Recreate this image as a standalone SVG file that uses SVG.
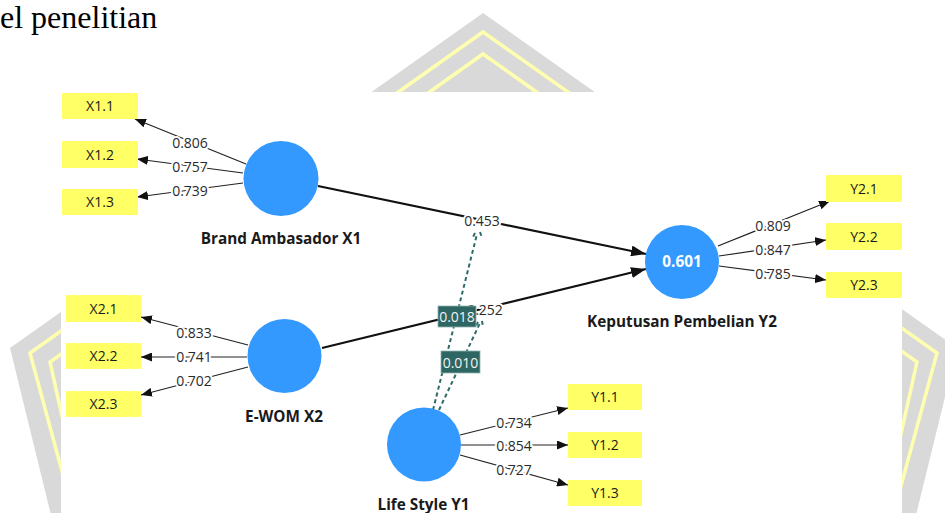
<svg xmlns="http://www.w3.org/2000/svg" width="945" height="513" viewBox="0 0 945 513">
<style>
.ind rect{fill:#ffff66}
.ind text{font-family:"Open Sans","Noto Sans",sans-serif;font-size:14px;fill:#1a1a1a;text-anchor:middle}
.lv circle{fill:#3399ff}
.lv text{font-family:"Open Sans","Noto Sans",sans-serif;font-size:15.3px;font-weight:bold;fill:#1a1a1a;text-anchor:middle}
.thin{stroke:#222;stroke-width:1.2;fill:none;marker-end:url(#ah)}
.thick{stroke:#111;stroke-width:2.2;fill:none;marker-end:url(#ahb)}
.w{font-family:"Open Sans","Noto Sans",sans-serif;font-size:14px;fill:#2a2a2a;text-anchor:middle;stroke:#fff;stroke-width:4;paint-order:stroke;stroke-linejoin:round}
.dash{stroke:#2e6b68;stroke-width:2;stroke-dasharray:4 3;fill:none}
.mod rect{fill:#2e6663;stroke:#8fb3b0;stroke-width:0.8}
.mod text{font-family:"Open Sans","Noto Sans",sans-serif;font-size:14px;fill:#f2f2f2;text-anchor:middle}
.wm{fill:none;stroke:#ffffb0;stroke-width:3.5}
</style>
<defs>
<marker id="ah" markerUnits="userSpaceOnUse" markerWidth="11" markerHeight="9" refX="11" refY="4.5" orient="auto"><path d="M0,0 L11,4.5 L0,9 z" fill="#111"/></marker>
<marker id="ahb" markerUnits="userSpaceOnUse" markerWidth="15" markerHeight="11" refX="15" refY="5.5" orient="auto"><path d="M0,0 L15,5.5 L0,11 z" fill="#111"/></marker>
</defs>
<rect x="0" y="0" width="945" height="513" fill="#ffffff"/>
<g id="watermark">
<polygon points="483,13 957,348 905,560 62,560 10,348" fill="#d9d9d9"/>
<polyline class="wm" points="86,560 30,353 483,32 937,353 881,560"/>
<polyline class="wm" points="94,560 50,362 483,54 917,362 873,560"/>
<rect x="61" y="92" width="841" height="421" fill="#ffffff"/>
</g>
<text x="0" y="28" font-family="Liberation Serif, serif" font-size="32" fill="#000">el penelitian</text>
<g id="connectors">
<line class="thin" x1="246" y1="164" x2="135" y2="119"/>
<line class="thin" x1="243" y1="173" x2="137" y2="159"/>
<line class="thin" x1="243" y1="183" x2="137" y2="197"/>
<line class="thin" x1="248" y1="345" x2="141" y2="317"/>
<line class="thin" x1="247" y1="357" x2="141" y2="357"/>
<line class="thin" x1="248" y1="367" x2="141" y2="395"/>
<line class="thin" x1="718" y1="246" x2="830" y2="201"/>
<line class="thin" x1="719" y1="256" x2="826" y2="240"/>
<line class="thin" x1="719" y1="266" x2="826" y2="280"/>
<line class="thin" x1="460" y1="435" x2="568" y2="408"/>
<line class="thin" x1="461" y1="445" x2="568" y2="445"/>
<line class="thin" x1="460" y1="455" x2="568" y2="485"/>
<line class="thick" x1="318" y1="186" x2="646" y2="254"/>
<line class="thick" x1="322" y1="348" x2="646" y2="269"/>
<path class="dash" d="M433,410 L477,234"/>
<path class="dash" d="M475,233 L472,239 M480,232 L482,238" stroke-dasharray="2 1.5"/>
<path class="dash" d="M439,410 L480,323"/>
<path class="dash" d="M478,322 L475,328 M482,321 L483,327" stroke-dasharray="2 1.5"/>
<text class="w" x="190" y="148">0.806</text>
<text class="w" x="190" y="172">0.757</text>
<text class="w" x="190" y="196">0.739</text>
<text class="w" x="194" y="338">0.833</text>
<text class="w" x="194" y="362">0.741</text>
<text class="w" x="194" y="386">0.702</text>
<text class="w" x="773" y="231">0.809</text>
<text class="w" x="773" y="255">0.847</text>
<text class="w" x="773" y="279">0.785</text>
<text class="w" x="514" y="428">0.734</text>
<text class="w" x="514" y="451">0.854</text>
<text class="w" x="514" y="475">0.727</text>
<text class="w" x="482" y="226">0.453</text>
<text class="w" x="485" y="315">0.252</text>
</g>
<g id="mod1" class="mod"><rect x="438" y="306" width="38" height="21"/><text x="457" y="321.5">0.018</text></g>
<g id="mod2" class="mod"><rect x="441" y="351" width="39" height="22"/><text x="460.5" y="367.5">0.010</text></g>
<g id="X1" class="lv"><circle cx="281" cy="178.5" r="37.5"/><text x="281" y="244">Brand Ambasador X1</text></g>
<g id="X2" class="lv"><circle cx="284.5" cy="356" r="37"/><text x="284" y="422">E-WOM X2</text></g>
<g id="Y2" class="lv"><circle cx="682" cy="262" r="37"/><text x="682" y="267" style="fill:#fff">0.601</text><text x="682" y="327">Keputusan Pembelian Y2</text></g>
<g id="Y1" class="lv"><circle cx="424" cy="444.5" r="37"/><text x="423.5" y="510">Life Style Y1</text></g>
<g id="X1.1" class="ind"><rect x="62" y="93" width="76" height="26"/><text x="100" y="111">X1.1</text></g>
<g id="X1.2" class="ind"><rect x="62" y="141" width="76" height="27"/><text x="100" y="159.5">X1.2</text></g>
<g id="X1.3" class="ind"><rect x="62" y="189" width="76" height="26"/><text x="100" y="207">X1.3</text></g>
<g id="X2.1" class="ind"><rect x="66" y="295" width="75" height="27"/><text x="103.5" y="313.5">X2.1</text></g>
<g id="X2.2" class="ind"><rect x="66" y="343" width="75" height="26"/><text x="103.5" y="361">X2.2</text></g>
<g id="X2.3" class="ind"><rect x="66" y="391" width="75" height="26"/><text x="103.5" y="409">X2.3</text></g>
<g id="Y2.1" class="ind"><rect x="826" y="175" width="76" height="27"/><text x="864" y="193.5">Y2.1</text></g>
<g id="Y2.2" class="ind"><rect x="826" y="223" width="76" height="27"/><text x="864" y="241.5">Y2.2</text></g>
<g id="Y2.3" class="ind"><rect x="826" y="272" width="76" height="26"/><text x="864" y="290">Y2.3</text></g>
<g id="Y1.1" class="ind"><rect x="568" y="384" width="74" height="26"/><text x="605" y="402">Y1.1</text></g>
<g id="Y1.2" class="ind"><rect x="568" y="432" width="74" height="26"/><text x="605" y="450">Y1.2</text></g>
<g id="Y1.3" class="ind"><rect x="568" y="480" width="74" height="26"/><text x="605" y="498">Y1.3</text></g>
</svg>
